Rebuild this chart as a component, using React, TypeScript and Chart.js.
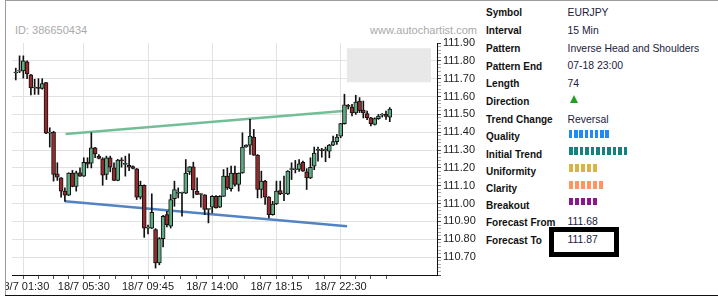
import React, { useEffect, useRef } from 'react';
import { Chart, registerables } from 'chart.js';

Chart.register(...registerables);

// ---- candle data (15 min bars, index 0 = 18/7 01:00) ----
const opens = [
  111.732, 111.742, 111.744, 111.794, 111.721, 111.648, 111.650, 111.645, 111.678, 111.395,
  111.401, 111.167, 111.144, 111.070, 111.047, 111.171, 111.096, 111.172, 111.154, 111.232,
  111.227, 111.313, 111.266, 111.251, 111.163, 111.257, 111.200, 111.130, 111.244, 111.220,
  111.215, 111.208, 111.195, 111.036, 111.103, 110.863, 110.863, 110.854, 110.667, 110.804,
  110.938, 110.873, 111.028, 111.058, 111.058, 111.058, 111.178, 111.206, 111.070, 111.051,
  111.049, 110.968, 110.980, 111.041, 110.980, 111.041, 111.154, 111.084, 111.171, 111.107,
  111.172, 111.317, 111.328, 111.373, 111.272, 111.079, 111.126, 111.036, 110.938, 110.998,
  111.073, 111.054, 111.054, 111.191, 111.190, 111.191, 111.232, 111.178, 111.144, 111.210,
  111.298, 111.298, 111.298, 111.294, 111.328, 111.347, 111.378, 111.448, 111.547, 111.541,
  111.508, 111.575, 111.524, 111.504, 111.481, 111.444, 111.476, 111.496, 111.502, 111.485,
];
const highs = [
  111.759, 111.828, 111.828, 111.800, 111.725, 111.697, 111.700, 111.700, 111.680, 111.425,
  111.405, 111.229, 111.146, 111.088, 111.173, 111.186, 111.182, 111.200, 111.257, 111.257,
  111.397, 111.315, 111.275, 111.257, 111.266, 111.266, 111.229, 111.248, 111.257, 111.266,
  111.279, 111.212, 111.197, 111.126, 111.105, 110.880, 111.055, 110.860, 110.810, 110.935,
  110.957, 111.051, 111.126, 111.088, 111.065, 111.247, 111.208, 111.232, 111.144, 111.055,
  111.050, 110.970, 111.045, 111.045, 111.045, 111.191, 111.200, 111.210, 111.210, 111.172,
  111.397, 111.330, 111.472, 111.416, 111.275, 111.182, 111.130, 111.040, 111.013, 111.126,
  111.126, 111.154, 111.185, 111.229, 111.242, 111.247, 111.238, 111.196, 111.257, 111.317,
  111.317, 111.310, 111.317, 111.332, 111.378, 111.388, 111.450, 111.613, 111.556, 111.556,
  111.607, 111.594, 111.575, 111.518, 111.483, 111.481, 111.500, 111.505, 111.518, 111.538,
];
const lows = [
  111.693, 111.734, 111.703, 111.700, 111.609, 111.612, 111.612, 111.641, 111.392, 111.317,
  111.126, 111.130, 111.036, 111.013, 111.045, 111.094, 111.070, 111.152, 111.152, 111.200,
  111.200, 111.257, 111.250, 111.103, 111.135, 111.178, 111.128, 111.128, 111.204, 111.154,
  111.185, 111.195, 111.023, 111.026, 110.811, 110.830, 110.860, 110.639, 110.657, 110.758,
  110.869, 110.863, 110.985, 111.032, 110.929, 111.056, 111.163, 111.032, 111.050, 110.980,
  110.938, 110.892, 110.948, 110.975, 110.978, 111.040, 111.079, 111.070, 111.098, 111.070,
  111.170, 111.315, 111.275, 111.270, 111.032, 111.032, 110.995, 110.920, 110.935, 110.995,
  111.050, 111.017, 111.050, 111.135, 111.172, 111.180, 111.180, 111.079, 111.140, 111.190,
  111.238, 111.260, 111.235, 111.257, 111.325, 111.332, 111.369, 111.445, 111.530, 111.491,
  111.500, 111.510, 111.480, 111.470, 111.435, 111.440, 111.472, 111.485, 111.472, 111.459,
];
const closes = [
  111.734, 111.744, 111.800, 111.727, 111.648, 111.650, 111.646, 111.672, 111.395, 111.400,
  111.163, 111.148, 111.070, 111.047, 111.171, 111.096, 111.172, 111.154, 111.232, 111.221,
  111.313, 111.279, 111.253, 111.159, 111.257, 111.204, 111.130, 111.244, 111.240, 111.221,
  111.204, 111.197, 111.036, 111.103, 110.863, 110.865, 110.951, 110.667, 110.804, 110.929,
  110.882, 111.023, 111.079, 111.060, 111.060, 111.171, 111.206, 111.077, 111.051, 111.052,
  110.968, 110.969, 111.041, 110.976, 111.041, 111.154, 111.088, 111.171, 111.107, 111.171,
  111.317, 111.328, 111.378, 111.272, 111.079, 111.126, 111.036, 110.938, 110.998, 111.070,
  111.054, 111.056, 111.182, 111.193, 111.192, 111.223, 111.182, 111.144, 111.204, 111.283,
  111.300, 111.296, 111.300, 111.328, 111.347, 111.373, 111.448, 111.553, 111.545, 111.508,
  111.569, 111.519, 111.508, 111.481, 111.448, 111.476, 111.491, 111.497, 111.489, 111.530,
];

// ---- x axis labels (bar index -> label) ----
const xLabelPositions = [2, 18, 35, 52, 69, 86];
const xLabels = ['18/7 01:30', '18/7 05:30', '18/7 09:45', '18/7 14:00', '18/7 18:15', '18/7 22:30'];
const xExtraTicks = [90, 94, 98];

// ---- y axis ----
const yMin = 110.6;
const yMax = 111.9;

// ---- pattern lines (bar index, price) ----
const necklineX = [13.2, 87.5];
const necklineY = [111.39, 111.52];
const supportX = [13.0, 87.7];
const supportY = [111.013, 110.873];

// ---- forecast zone ----
const forecastX = [87.6, 109.9];
const forecastFrom = 111.68;
const forecastTo = 111.87;

// ---- info panel ----
const infoLabels = ['Symbol', 'Interval', 'Pattern', 'Pattern End', 'Length', 'Direction', 'Trend Change',
  'Quality', 'Initial Trend', 'Uniformity', 'Clarity', 'Breakout', 'Forecast From', 'Forecast To'];
const infoValues = ['EURJPY', '15 Min', 'Inverse Head and Shoulders', '07-18 23:00', '74', '', 'Reversal',
  '', '', '', '', '', '111.68', '111.87'];
const qualityBars = [
  { row: 7, count: 8, color: '#1e8cf5' },
  { row: 8, count: 11, color: '#11847f' },
  { row: 9, count: 5, color: '#d9b444' },
  { row: 10, count: 6, color: '#ff9460' },
  { row: 11, count: 5, color: '#8c1590' },
];

const GREEN = '#5dab82';
const RED = '#952a2e';

const rowCenters = [13, 30.8, 48.6, 66.4, 84.2, 102, 119.6, 137, 154.6, 171.6, 188.6, 205.4, 222.5, 240.5];
const barTops = [130, 147.3, 164, 181, 197.7];
const barWidths = [3.4, 3.6, 4.2, 4.2, 4.2];
const barPitch = [5.2, 5.45, 6.05, 6.05, 6.05];

const isMajor = (v: number) => Math.abs(v * 10 - Math.round(v * 10)) < 1e-6;

function ChartCanvas() {
  const ref = useRef<HTMLCanvasElement>(null);
  useEffect(() => {
    if (!ref.current) return;
    Chart.defaults.font.family = '"Liberation Sans", Arial, sans-serif';
    Chart.defaults.font.size = 11;
    const idx = opens.map((_, i) => i);
    const bodyColors = idx.map((i) => (closes[i] >= opens[i] ? GREEN : RED));
    const chart = new Chart(ref.current, {
      type: 'bar',
      data: {
        datasets: [
          {
            type: 'bar',
            data: idx.map((i) => ({ x: i, y: [opens[i], closes[i]] })) as any,
            backgroundColor: bodyColors,
            borderColor: '#111',
            borderWidth: 1,
            borderSkipped: false,
            barThickness: 4,
            minBarLength: 1,
            grouped: false,
            order: 0,
          } as any,
          {
            type: 'bar',
            data: idx.map((i) => ({ x: i, y: [lows[i], highs[i]] })) as any,
            backgroundColor: '#111',
            borderWidth: 0,
            barThickness: 1,
            grouped: false,
            order: 1,
          } as any,
          {
            type: 'line',
            data: necklineX.map((x, k) => ({ x, y: necklineY[k] })) as any,
            borderColor: '#72bf97',
            borderWidth: 2.5,
            pointRadius: 0,
            fill: false,
            order: 2,
          } as any,
          {
            type: 'line',
            data: supportX.map((x, k) => ({ x, y: supportY[k] })) as any,
            borderColor: '#5283c2',
            borderWidth: 2.5,
            pointRadius: 0,
            fill: false,
            order: 2,
          } as any,
          {
            type: 'line',
            data: forecastX.map((x) => ({ x, y: forecastTo })) as any,
            borderWidth: 0,
            borderColor: 'rgba(0,0,0,0)',
            backgroundColor: '#e8e8e8',
            pointRadius: 0,
            fill: '+1',
            order: 3,
          } as any,
          {
            type: 'line',
            data: forecastX.map((x) => ({ x, y: forecastFrom })) as any,
            borderWidth: 0,
            borderColor: 'rgba(0,0,0,0)',
            pointRadius: 0,
            fill: false,
            order: 3,
          } as any,
        ],
      },
      options: {
        animation: false,
        responsive: false,
        devicePixelRatio: 1,
        layout: { padding: { left: 6, top: 43, right: 0, bottom: 0 } },
        plugins: { legend: { display: false }, tooltip: { enabled: false } },
        scales: {
          x: {
            type: 'linear',
            min: -1,
            max: 111.5,
            offset: false,
            grid: {
              offset: false,
              tickLength: 4,
              color: (ctx: any) => (ctx.tick && xLabelPositions.includes(ctx.tick.value) ? '#e2e2e2' : 'rgba(0,0,0,0)'),
              tickColor: '#555',
            },
            border: { display: true, color: '#111', width: 1 },
            ticks: {
              autoSkip: false,
              maxRotation: 0,
              minRotation: 0,
              padding: 1,
              color: '#222',
              font: { size: 11 },
              callback: (v: any) => {
                const k = xLabelPositions.indexOf(Number(v));
                return k >= 0 ? xLabels[k] : '';
              },
            },
            afterBuildTicks: (scale: any) => {
              const vals: number[] = [];
              for (let k = 0; k < xLabelPositions.length - 1; k++) {
                const a = xLabelPositions[k];
                const b = xLabelPositions[k + 1];
                for (let j = 0; j < 4; j++) vals.push(a + ((b - a) * j) / 4);
              }
              vals.push(xLabelPositions[xLabelPositions.length - 1]);
              xExtraTicks.forEach((v) => vals.push(v));
              scale.ticks = vals.map((v) => ({ value: v }));
            },
            afterFit: (scale: any) => {
              scale.height = 21;
              scale.paddingLeft = 0;
              scale.paddingRight = 0;
            },
          } as any,
          y: {
            type: 'linear',
            position: 'right',
            min: yMin,
            max: yMax,
            grid: {
              tickLength: 4,
              color: (ctx: any) => {
                const v = ctx.tick ? ctx.tick.value : 0;
                return ctx.tick && isMajor(v) && v > yMin + 0.05 && v < yMax - 0.05 ? '#e2e2e2' : 'rgba(0,0,0,0)';
              },
              tickColor: (ctx: any) => (ctx.tick && isMajor(ctx.tick.value) ? '#444' : '#aaa'),
            },
            border: { display: true, color: '#111', width: 1 },
            ticks: {
              autoSkip: false,
              padding: 2,
              color: '#222',
              font: { size: 11 },
              callback: (v: any) => {
                const n = Number(v);
                return isMajor(n) && n > yMin + 0.05 ? n.toFixed(2) : '';
              },
            },
            afterBuildTicks: (scale: any) => {
              const vals: number[] = [];
              const n = Math.round((yMax - yMin) / 0.02);
              for (let k = 0; k <= n; k++) vals.push(Math.round((yMin + k * 0.02) * 100) / 100);
              scale.ticks = vals.map((v) => ({ value: v }));
            },
            afterFit: (scale: any) => {
              scale.width = 43;
              scale.paddingTop = 0;
              scale.paddingBottom = 0;
            },
          } as any,
        },
      } as any,
    });
    return () => chart.destroy();
  }, []);
  return (
    <canvas
      ref={ref}
      width={474}
      height={296}
      style={{ position: 'absolute', left: 6, top: 0, width: 474, height: 296 }}
    />
  );
}

export default function App() {
  const font = '"Liberation Sans", Arial, sans-serif';
  return (
    <div
      style={{
        position: 'absolute',
        left: 0,
        top: 0,
        width: 718,
        height: 300,
        background: '#fff',
        overflow: 'hidden',
        fontFamily: font,
      }}
    >
      <div style={{ position: 'absolute', left: 5, top: 0, width: 713, height: 1, background: '#9c9c9c' }} />
      <div style={{ position: 'absolute', left: 5, top: 0, width: 1, height: 296, background: '#9c9c9c' }} />
      <div style={{ position: 'absolute', left: 5, top: 295, width: 713, height: 1, background: '#111' }} />
      <div
        style={{ position: 'absolute', left: 15, top: 23.7, fontSize: 11, lineHeight: '13px', color: '#a9a9a9', whiteSpace: 'nowrap' }}
      >
        ID: 386650434
      </div>
      <div
        style={{
          position: 'absolute',
          left: 200,
          width: 277,
          top: 23.9,
          fontSize: 11,
          lineHeight: '13px',
          color: '#a9a9a9',
          textAlign: 'right',
          whiteSpace: 'nowrap',
        }}
      >
        www.autochartist.com
      </div>
      <ChartCanvas />
      {infoLabels.map((lab, i) => (
        <div
          key={'l' + i}
          style={{
            position: 'absolute',
            left: 486,
            top: rowCenters[i] - 5.9,
            fontSize: 10,
            lineHeight: '12px',
            fontWeight: 'bold',
            color: '#111',
            whiteSpace: 'nowrap',
          }}
        >
          {lab}
        </div>
      ))}
      {infoValues.map((val, i) =>
        val ? (
          <div
            key={'v' + i}
            style={{
              position: 'absolute',
              left: 567.5,
              top: rowCenters[i] - 6.1,
              fontSize: 10.4,
              lineHeight: '12px',
              color: '#211b3e',
              whiteSpace: 'nowrap',
            }}
          >
            {val}
          </div>
        ) : null
      )}
      <div
        style={{
          position: 'absolute',
          left: 570,
          top: 95,
          width: 0,
          height: 0,
          borderLeft: '4.5px solid transparent',
          borderRight: '4.5px solid transparent',
          borderBottom: '8px solid #22a022',
        }}
      />
      {qualityBars.map((q, r) =>
        Array.from({ length: q.count }).map((_, j) => (
          <div
            key={'b' + r + '_' + j}
            style={{
              position: 'absolute',
              left: 569 + j * barPitch[r],
              top: barTops[r],
              width: barWidths[r],
              height: 7.7,
              background: q.color,
            }}
          />
        ))
      )}
      <div
        style={{
          position: 'absolute',
          left: 549,
          top: 227,
          width: 70,
          height: 30,
          border: '5px solid #000',
          boxSizing: 'border-box',
        }}
      />
    </div>
  );
}
